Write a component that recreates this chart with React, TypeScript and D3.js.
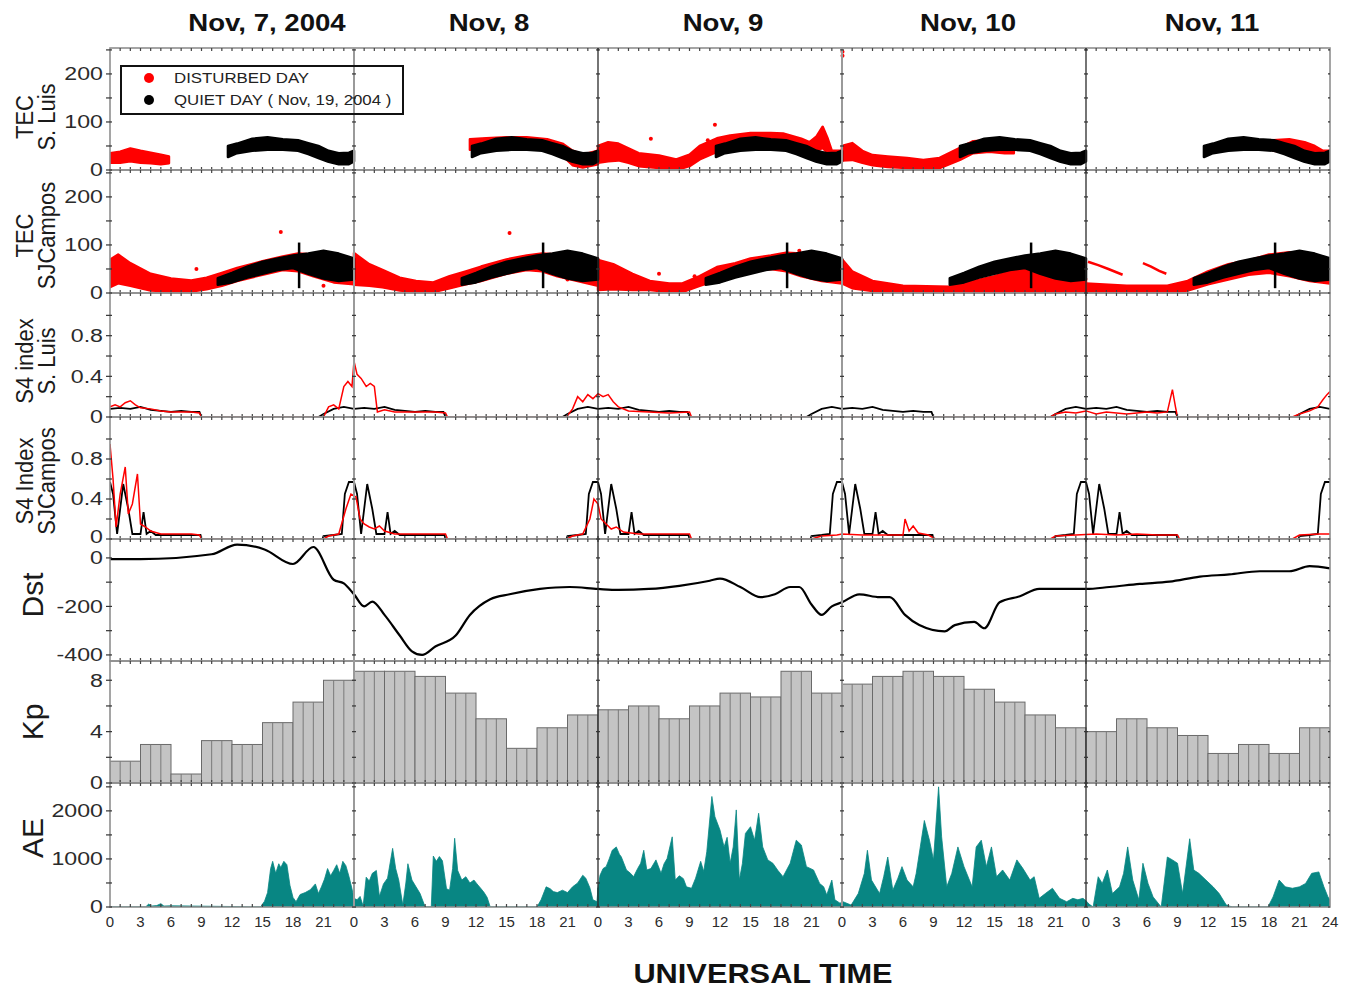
import React from 'react'
import * as d3 from 'd3'

type P2 = [number, number]
type P3 = [number, number, number]

const dayLabels = ['Nov, 7, 2004', 'Nov, 8', 'Nov, 9', 'Nov, 10', 'Nov, 11']
const dayLabelShift = [35, 13, 3, 4, 4]
const hourTicks = [0, 3, 6, 9, 12, 15, 18, 21]
const legendItems = ['DISTURBED DAY', 'QUIET DAY ( Nov, 19, 2004 )']

// TEC S. Luis, disturbed days: [hour since Nov 7 00UT, low, high]
const tecSLNov7 : P3[] = [[0, 15, 35], [1, 15, 38], [2, 18, 45], [3, 15, 40], [4, 14, 36], [5, 12, 32], [5.8, 14, 28]]
const tecSLNov8: P3[] = [[35.4, 42, 64], [37, 45, 66], [39, 47, 68], [41, 46, 68], [43, 42, 64], [44.5, 30, 55], [45.5, 10, 40], [46.5, 5, 32], [48, 12, 40]]
const tecSLNov9: P3[] = [[48, 15, 50], [49, 18, 58], [50, 20, 55], [51, 15, 45], [52, 8, 35], [54, 4, 30], [55.7, 0, 22], [57, 8, 32], [58, 22, 50], [59.7, 38, 66], [61, 45, 72], [63, 52, 77], [65, 52, 77], [66.2, 50, 76], [68, 40, 65], [68.8, 31, 58], [69.5, 40, 70], [70.1, 46, 90], [70.6, 35, 65], [71, 17, 40], [72, 17, 40]]
const tecSLNov10: P3[] = [[72, 20, 50], [73, 21, 56], [74, 15, 40], [75, 10, 31], [76.5, 6, 28], [78.4, 4, 25], [80, 0, 21], [81.6, 4, 25], [83.6, 21, 46], [84.9, 35, 60], [86.5, 38, 62], [88, 35, 58], [88.9, 35, 55]]
const tecSLNov11: P3[] = [[114.4, 40, 62], [116, 38, 64], [117.5, 30, 58], [118.5, 20, 50], [119.3, 17, 40], [120, 17, 40]]
const tecSLDots: P2[] = [[59.5, 94], [58.8, 62], [53.2, 65], [72.05, 238], [72.05, 246]]
// quiet day (Nov 19) S. Luis: [hour of day, low, high]
const tecSLQuiet: P3[] = [[11.6, 27, 50], [12.5, 35, 55], [14, 40, 65], [15.5, 42, 68], [17, 42, 64], [18.5, 40, 62], [19.5, 33, 56], [20.5, 25, 50], [21.5, 17, 40], [22.5, 12, 35], [23.5, 12, 36], [24, 18, 40]]

// TEC SJCampos
const tecSJNov7: P3[] = [[0, 12, 69], [0.8, 20, 80], [2, 15, 62], [4, 5, 40], [6, 3, 30], [8, 3, 26], [9.5, 8, 32], [11, 15, 42], [12.5, 25, 52], [15, 38, 66], [17, 48, 76], [18.5, 45, 82], [20, 35, 80], [22, 22, 72], [24, 18, 70]]
const tecSJNov8: P3[] = [[24, 17, 83], [25.5, 15, 60], [26.8, 12, 48], [28.5, 5, 32], [30.1, 2, 25], [31.8, 2, 22], [33.4, 10, 35], [35, 18, 45], [36.5, 25, 55], [39, 40, 70], [41, 48, 78], [42.5, 45, 82], [44, 35, 80], [46, 25, 75], [48, 15, 72]]
const tecSJNov9: P3[] = [[48, 6, 69], [49.5, 8, 60], [51.4, 6, 40], [53.1, 6, 25], [55, 2, 20], [56.3, 2, 20], [58, 15, 35], [59.7, 27, 54], [61.5, 35, 62], [63, 45, 72], [65, 50, 78], [66.5, 45, 84], [68, 35, 82], [70, 25, 75], [72, 20, 70]]
const tecSJNov10: P3[] = [[72, 20, 70], [73, 10, 45], [75, 4, 25], [78, 2, 15], [82.6, 0, 13], [85, 0, 25], [87, 0, 35], [89, 0, 48], [91, 0, 58], [93, 0, 55], [95, 0, 42], [96, 3, 30]]
const tecSJNov11: P3[] = [[96, 2, 20], [100, 0, 15], [104, 0, 15], [106, 5, 25], [108, 18, 45], [110, 28, 60], [112, 38, 68], [114, 42, 80], [116, 35, 85], [118, 25, 80], [120, 20, 65]]
const tecSJStreakA: P2[] = [[96.2, 65], [97.2, 58], [98.2, 50], [99.6, 38]]
const tecSJStreakB: P2[] = [[101.6, 62], [102.4, 55], [103.2, 46], [103.9, 40]]
const tecSJDots: P2[] = [[16.8, 127], [8.5, 50], [21, 15], [39.3, 125], [45, 28], [54, 40], [57.5, 35], [58.5, 30], [67, 78], [67.8, 88]]
const tecSJQuiet: P3[] = [[10.6, 17, 31], [12, 22, 42], [13.5, 32, 55], [15, 40, 65], [16.5, 48, 72], [18, 52, 78], [19.5, 40, 82], [21, 30, 88], [22.5, 25, 82], [24, 28, 72]]
const tecSJQuietSpike: P3 = [18.6, 10, 105]

// S4 S. Luis, disturbed (hour since Nov 7 00UT, value)
const s4SLDist: P2[] = [[0, 0.1], [0.5, 0.12], [1, 0.1], [1.5, 0.14], [2, 0.16], [2.5, 0.12], [3, 0.09], [4, 0.08], [5, 0.06], [6, 0.05], [7, 0.05], [8, 0.05], [8.8, 0.04], [9, 0], [21, 0], [21.5, 0.1], [22, 0.12], [22.5, 0.08], [23, 0.3], [23.4, 0.35], [23.8, 0.3], [24, 0.55], [24.3, 0.42], [24.7, 0.38], [25.2, 0.3], [25.6, 0.33], [26, 0.3], [26.3, 0.05], [27, 0.07], [28, 0.05], [30, 0.05], [32, 0.05], [33, 0.04], [33.2, 0], [44.9, 0], [45.5, 0.08], [46, 0.2], [46.5, 0.15], [47, 0.22], [47.5, 0.18], [48, 0.23], [48.5, 0.2], [49, 0.22], [49.5, 0.15], [50, 0.1], [51, 0.06], [53, 0.05], [55, 0.04], [57, 0.05], [57.2, 0], [92.5, 0], [93, 0.03], [94, 0.05], [95, 0.04], [96, 0.06], [97, 0.03], [98, 0.05], [99, 0.04], [100, 0.03], [101, 0.04], [102, 0.05], [103, 0.04], [104, 0.05], [104.5, 0.27], [104.8, 0.1], [105, 0], [116.3, 0], [117, 0.03], [118, 0.06], [118.8, 0.1], [119.3, 0.17], [119.7, 0.22], [120, 0.25]]
// S4 S. Luis quiet day (hour of day, value)
const s4SLQuiet: P2[] = [[0, 0.08], [1, 0.09], [2, 0.08], [3, 0.1], [4, 0.07], [5, 0.06], [6, 0.05], [7, 0.06], [8, 0.05], [8.8, 0.05], [9, 0], [20.5, 0], [21, 0.03], [22, 0.08], [23, 0.1], [24, 0.08]]

// S4 SJCampos
const s4SJDist: P2[] = [[0, 0.95], [0.3, 0.6], [0.6, 0.12], [1, 0.45], [1.5, 0.72], [1.8, 0.25], [2.2, 0.35], [2.7, 0.65], [3, 0.15], [3.5, 0.12], [4, 0.08], [5, 0.05], [6, 0.05], [7, 0.05], [8, 0.05], [8.8, 0.04], [9, 0], [21, 0], [21.5, 0.03], [22.5, 0.05], [23.2, 0.3], [23.7, 0.45], [24.2, 0.42], [24.6, 0.2], [25, 0.15], [25.5, 0.12], [26, 0.1], [26.5, 0.13], [27, 0.08], [28, 0.05], [30, 0.05], [33, 0.05], [33.2, 0], [44.9, 0], [45.5, 0.03], [46.5, 0.05], [47.2, 0.2], [47.6, 0.4], [48, 0.35], [48.3, 0.2], [48.8, 0.15], [49.3, 0.1], [49.8, 0.12], [50.5, 0.07], [52, 0.05], [55, 0.05], [57, 0.05], [57.2, 0], [69, 0], [70, 0.03], [71.5, 0.04], [72, 0.05], [74, 0.04], [76, 0.04], [78, 0.04], [78.2, 0.2], [78.6, 0.08], [79, 0.13], [79.5, 0.06], [80.5, 0.04], [81.2, 0], [92.5, 0], [93, 0.03], [95, 0.04], [97, 0.05], [99, 0.04], [101, 0.05], [103, 0.04], [105, 0.04], [105.2, 0], [116.3, 0], [117, 0.04], [119, 0.05], [120, 0.05]]
const s4SJQuiet: P2[] = [[0, 0.57], [0.3, 0.45], [0.7, 0.05], [1.3, 0.55], [1.8, 0.3], [2.2, 0.05], [3, 0.05], [3.3, 0.27], [3.6, 0.05], [4, 0.08], [4.5, 0.04], [6, 0.04], [8, 0.04], [8.9, 0.04], [9, 0], [20.9, 0], [21, 0.03], [22, 0.04], [22.8, 0.05], [23.1, 0.45], [23.5, 0.57], [24, 0.57]]

// Dst (nT)
const dst: P2[] = [[0, -5], [3, -5], [10, 15], [12.5, 55], [15.2, 35], [18, -25], [20, 45], [22, -90], [23, -105], [24, -150], [25, -200], [25.8, -180], [27, -235], [28.5, -320], [29.7, -385], [30.7, -400], [32, -365], [34, -320], [35.4, -235], [37.4, -170], [39.3, -150], [42.3, -128], [45.2, -120], [48, -128], [50, -132], [53, -128], [56, -115], [59, -94], [60, -85], [62, -120], [64, -162], [65.4, -150], [66.9, -120], [67.8, -120], [69, -192], [70, -235], [71, -200], [72, -183], [73.7, -150], [75.7, -162], [76.7, -162], [78.2, -235], [79.6, -277], [82.1, -303], [83.1, -277], [85, -264], [86, -290], [87.5, -183], [89.5, -158], [91.4, -128], [93.4, -128], [96, -128], [98.3, -120], [101.3, -107], [104.2, -98], [107.2, -77], [110.1, -68], [113.1, -55], [116, -55], [118, -34], [120, -43]]

// Kp, 3-hourly
const kp = [1.7, 3.0, 0.7, 3.3, 3.0, 4.7, 6.3, 8.0,
  8.7, 8.7, 8.3, 7.0, 5.0, 2.7, 4.3, 5.3,
  5.7, 6.0, 5.0, 6.0, 7.0, 6.7, 8.7, 7.0,
  7.7, 8.3, 8.7, 8.3, 7.3, 6.3, 5.3, 4.3,
  4.0, 5.0, 4.3, 3.7, 2.3, 3.0, 2.3, 4.3]

// AE (nT)
const aeNov7: P2[] = [[0, 0], [3.5, 0], [3.8, 60], [4.1, 20], [4.6, 30], [5, 70], [5.3, 20], [6, 25], [8, 20], [10, 15], [12, 10], [13.6, 0], [14.8, 0], [15.2, 120], [15.5, 300], [15.8, 800], [16, 950], [16.3, 700], [16.6, 900], [16.8, 820], [17.1, 950], [17.4, 880], [17.7, 450], [18, 200], [18.3, 110], [18.7, 260], [19.2, 300], [19.7, 360], [20.2, 480], [20.5, 280], [20.8, 420], [21.1, 580], [21.4, 800], [21.7, 650], [22, 760], [22.3, 880], [22.6, 700], [22.9, 950], [23.2, 860], [23.5, 640], [23.8, 380], [24, 180]]
const aeNov8: P2[] = [[24, 180], [24.3, 150], [24.6, 220], [24.9, 20], [25.2, 620], [25.5, 540], [25.8, 700], [26.2, 760], [26.5, 220], [26.9, 480], [27.3, 600], [27.8, 1220], [28.1, 800], [28.4, 560], [28.8, 40], [29.1, 500], [29.3, 900], [29.7, 560], [30.1, 420], [30.5, 280], [31, 0], [31.6, 0], [31.8, 1060], [32.1, 950], [32.4, 1050], [32.7, 960], [33.1, 380], [33.4, 350], [33.7, 800], [33.9, 1430], [34.2, 760], [34.6, 560], [35, 630], [35.4, 500], [35.8, 560], [36.1, 480], [36.5, 380], [36.8, 300], [37.1, 200], [37.4, 0], [42, 0], [42.4, 150], [42.9, 420], [43.3, 380], [43.6, 320], [44, 300], [44.5, 350], [45, 300], [45.5, 420], [46, 500], [46.5, 660], [46.8, 600], [47.2, 400], [47.5, 150], [47.9, 110], [48, 400]]
const aeNov9: P2[] = [[48, 400], [48.2, 660], [48.5, 800], [48.8, 840], [49.1, 1000], [49.4, 1180], [49.8, 1250], [50.1, 1100], [50.3, 1040], [50.8, 770], [51.2, 700], [51.5, 630], [51.9, 800], [52.2, 910], [52.5, 1180], [52.8, 770], [53.2, 800], [53.7, 980], [54.2, 700], [54.5, 900], [54.8, 1010], [55.3, 1460], [55.6, 560], [56, 650], [56.4, 590], [56.7, 420], [57.2, 390], [57.6, 600], [58.1, 950], [58.4, 740], [58.7, 1150], [59.2, 2300], [59.5, 1880], [60, 1600], [60.4, 1250], [60.7, 1450], [61, 910], [61.3, 1250], [61.6, 2020], [61.9, 560], [62.2, 900], [62.5, 1530], [63, 1670], [63.4, 1390], [63.8, 1950], [64.2, 1250], [64.7, 980], [65.2, 910], [65.7, 760], [66.2, 630], [66.9, 910], [67.5, 1390], [68, 1290], [68.5, 840], [69.2, 770], [69.8, 490], [70.2, 420], [70.5, 250], [71, 560], [71.3, 150], [71.8, 80], [72, 100]]
const aeNov10: P2[] = [[72, 100], [72.1, 110], [72.9, 40], [73.6, 280], [74.2, 700], [74.5, 1180], [74.9, 560], [75.7, 280], [76.1, 630], [76.5, 1040], [77, 350], [77.5, 600], [77.9, 840], [78.4, 560], [79, 420], [79.3, 700], [79.7, 1250], [80.1, 1800], [80.6, 1390], [81, 980], [81.5, 2500], [81.8, 1460], [82.3, 420], [82.8, 700], [83.4, 1250], [84, 840], [84.8, 420], [85.2, 1250], [85.7, 1390], [86.2, 840], [86.7, 1250], [87.2, 630], [87.8, 770], [88.5, 560], [89.2, 980], [89.8, 800], [90.5, 560], [90.9, 630], [91.4, 180], [92, 280], [92.7, 390], [93.4, 180], [94.1, 110], [94.7, 180], [95.2, 150], [95.7, 180], [96, 130]]
const aeNov11: P2[] = [[96, 130], [96.3, 60], [96.7, 0], [97.2, 630], [97.6, 490], [98.1, 770], [98.6, 280], [99.3, 420], [99.7, 700], [100.1, 1250], [100.6, 560], [101.2, 150], [101.6, 910], [102.1, 490], [102.6, 210], [103.4, 0], [104, 1040], [104.5, 980], [105, 910], [105.5, 280], [106.2, 1420], [106.6, 770], [107.1, 700], [107.8, 560], [108.5, 420], [109.1, 280], [109.8, 40], [110.4, 0], [113.9, 0], [114.4, 210], [115, 560], [115.6, 420], [116.3, 390], [117, 420], [117.6, 490], [118.2, 700], [118.9, 730], [119.4, 420], [119.8, 210], [120, 150]]

const FONT = 'Liberation Sans, Arial, Helvetica, sans-serif'
const RED = '#ff0000'
const TEAL = '#088683'

const App = () => {
  const ref = React.useRef<SVGSVGElement>(null)

  React.useEffect(() => {
    const svg = d3.select(ref.current)
    svg.selectAll('*').remove()

    const x = d3.scaleLinear().domain([0, 120]).range([110, 1330])

    const panels = [
      { id: 'tecSL', top: 48, bottom: 170, domain: [0, 254], ticks: [0, 100, 200], minor: [50, 150, 250], title: ['TEC', 'S. Luis'], dy: 8 },
      { id: 'tecSJ', top: 170, bottom: 293, domain: [0, 256], ticks: [0, 100, 200], minor: [50, 150, 250], title: ['TEC', 'SJCampos'], dy: 4 },
      { id: 's4SL', top: 293, bottom: 417, domain: [0, 1.22], ticks: [0, 0.4, 0.8], minor: [0.2, 0.6, 1.0], title: ['S4 index', 'S. Luis'], dy: 6 },
      { id: 's4SJ', top: 417, bottom: 539, domain: [0, 1.22], ticks: [0, 0.4, 0.8], minor: [0.2, 0.6, 1.0], title: ['S4 Index', 'SJCampos'], dy: 3 },
      { id: 'dst', top: 539, bottom: 661, domain: [-425, 78], ticks: [0, -200, -400], minor: [-100, -300], title: ['Dst'], dy: -5 },
      { id: 'kp', top: 661, bottom: 783, domain: [0, 9.5], ticks: [0, 4, 8], minor: [2, 6], title: ['Kp'], dy: 0 },
      { id: 'ae', top: 783, bottom: 907, domain: [0, 2580], ticks: [0, 1000, 2000], minor: [500, 1500, 2500], title: ['AE'], dy: -7 },
    ]
    const ys: Record<string, d3.ScaleLinear<number, number>> = {}
    panels.forEach((p) => {
      ys[p.id] = d3.scaleLinear().domain(p.domain).range([p.bottom, p.top])
    })

    svg.append('rect').attr('width', 1353).attr('height', 989).attr('fill', '#fff')

    const defs = svg.append('defs')
    panels.forEach((p) => {
      defs.append('clipPath').attr('id', 'clip-' + p.id)
        .append('rect').attr('x', 110).attr('y', p.top).attr('width', 1220).attr('height', p.bottom - p.top)
    })
    const layer = (id: string) => svg.append('g').attr('clip-path', 'url(#clip-' + id + ')')

    const band = (y: d3.ScaleLinear<number, number>) =>
      d3.area<P3>().x((d) => x(d[0])).y0((d) => y(d[1])).y1((d) => y(d[2]))
    const line = (y: d3.ScaleLinear<number, number>) =>
      d3.line<P2>().x((d) => x(d[0])).y((d) => y(d[1]))
    const days = [0, 1, 2, 3, 4]

    // ---- TEC S. Luis
    {
      const y = ys.tecSL
      const g = layer('tecSL')
      ;[tecSLNov7, tecSLNov8, tecSLNov9, tecSLNov10, tecSLNov11].forEach((b) => {
        g.append('path').attr('d', band(y)(b)).attr('fill', RED).attr('stroke', RED).attr('stroke-width', 2.5).attr('stroke-linejoin', 'round')
      })
      g.selectAll('.dot').data(tecSLDots).enter().append('circle')
        .attr('cx', (d) => x(d[0])).attr('cy', (d) => y(d[1])).attr('r', 2).attr('fill', RED)
      days.forEach((d) => {
        const b = tecSLQuiet.map(([h, lo, hi]) => [h + d * 24, lo, hi] as P3)
        g.append('path').attr('d', band(y)(b)).attr('fill', '#000').attr('stroke', '#000').attr('stroke-width', 2.5).attr('stroke-linejoin', 'round')
      })
    }

    // ---- TEC SJCampos
    {
      const y = ys.tecSJ
      const g = layer('tecSJ')
      ;[tecSJNov7, tecSJNov8, tecSJNov9, tecSJNov10, tecSJNov11].forEach((b) => {
        g.append('path').attr('d', band(y)(b)).attr('fill', RED).attr('stroke', RED).attr('stroke-width', 2.5).attr('stroke-linejoin', 'round')
      })
      ;[tecSJStreakA, tecSJStreakB].forEach((s) => {
        g.append('path').attr('d', line(y)(s)).attr('fill', 'none').attr('stroke', RED).attr('stroke-width', 2.5)
      })
      g.selectAll('.dot').data(tecSJDots).enter().append('circle')
        .attr('cx', (d) => x(d[0])).attr('cy', (d) => y(d[1])).attr('r', 2).attr('fill', RED)
      days.forEach((d) => {
        const b = tecSJQuiet.map(([h, lo, hi]) => [h + d * 24, lo, hi] as P3)
        g.append('path').attr('d', band(y)(b)).attr('fill', '#000').attr('stroke', '#000').attr('stroke-width', 2.5).attr('stroke-linejoin', 'round')
        const [h, lo, hi] = tecSJQuietSpike
        g.append('line').attr('x1', x(h + d * 24)).attr('x2', x(h + d * 24)).attr('y1', y(lo)).attr('y2', y(hi))
          .attr('stroke', '#000').attr('stroke-width', 2.5)
      })
    }

    // ---- S4 panels
    const s4 = (id: string, dist: P2[], quiet: P2[]) => {
      const y = ys[id]
      const g = layer(id)
      days.forEach((d) => {
        const q = quiet.map(([h, v]) => [h + d * 24, v] as P2)
        g.append('path').attr('d', line(y)(q)).attr('fill', 'none').attr('stroke', '#000').attr('stroke-width', 1.8)
      })
      g.append('path').attr('d', line(y)(dist)).attr('fill', 'none').attr('stroke', RED).attr('stroke-width', 1.5)
    }
    s4('s4SL', s4SLDist, s4SLQuiet)
    s4('s4SJ', s4SJDist, s4SJQuiet)

    // ---- Dst
    layer('dst').append('path').attr('d', line(ys.dst).curve(d3.curveMonotoneX)(dst))
      .attr('fill', 'none').attr('stroke', '#000').attr('stroke-width', 2.2)

    // ---- Kp
    {
      const y = ys.kp
      const g = layer('kp')
      g.selectAll('.kp').data(kp).enter().append('rect')
        .attr('x', (d, i) => x(i * 3)).attr('width', x(3) - x(0))
        .attr('y', (d) => y(d)).attr('height', (d) => y(0) - y(d))
        .attr('fill', '#c4c4c4').attr('stroke', '#6a6a6a').attr('stroke-width', 1)
      kp.forEach((v, i) => {
        ;[1, 2].forEach((k) => {
          g.append('line').attr('x1', x(i * 3 + k)).attr('x2', x(i * 3 + k)).attr('y1', y(v)).attr('y2', y(0))
            .attr('stroke', '#7a7a7a').attr('stroke-width', 1)
        })
      })
    }

    // ---- AE
    {
      const y = ys.ae
      const g = layer('ae')
      const area = d3.area<P2>().x((d) => x(d[0])).y0(y(0)).y1((d) => y(d[1]))
      ;[aeNov7, aeNov8, aeNov9, aeNov10, aeNov11].forEach((s) => {
        g.append('path').attr('d', area(s)).attr('fill', TEAL).attr('stroke', TEAL).attr('stroke-width', 0.8)
      })
    }

    // ---- frames, separators, ticks
    const frame = svg.append('g')
    panels.forEach((p) => {
      frame.append('rect').attr('x', 110).attr('y', p.top).attr('width', 1220).attr('height', p.bottom - p.top)
        .attr('fill', 'none').attr('stroke', '#8f8f8f').attr('stroke-width', 1.6)
      for (let h = 1; h < 120; h++) {
        frame.append('line').attr('x1', x(h)).attr('x2', x(h)).attr('y1', p.top).attr('y2', p.top + 3)
          .attr('stroke', '#444').attr('stroke-width', 1.2)
        frame.append('line').attr('x1', x(h)).attr('x2', x(h)).attr('y1', p.bottom - 3).attr('y2', p.bottom)
          .attr('stroke', '#444').attr('stroke-width', 1.2)
      }
    })
    ;[1, 2, 3, 4].forEach((d) => {
      const dark = d % 2 === 0
      frame.append('line').attr('x1', x(d * 24)).attr('x2', x(d * 24)).attr('y1', 48).attr('y2', 907)
        .attr('stroke', dark ? '#2a2a2a' : '#9a9a9a').attr('stroke-width', dark ? 1.3 : 2)
    })
    panels.forEach((p) => {
      const y = ys[p.id]
      ;[0, 1, 2, 3, 4, 5].forEach((d) => {
        const xx = x(d * 24)
        p.minor.concat(p.ticks).forEach((t) => {
          frame.append('line').attr('x1', xx - (d === 0 ? 4 : 2)).attr('x2', xx + (d === 5 ? 0 : 2))
            .attr('y1', y(t)).attr('y2', y(t)).attr('stroke', '#333').attr('stroke-width', 1.2)
        })
      })
      // y tick labels (source image is stretched horizontally)
      p.ticks.forEach((t) => {
        const ty = t === 0 && p.id === 's4SJ' ? y(t) - 2 : y(t)
        svg.append('text').attr('transform', `translate(103,${ty}) scale(1.22,1)`).attr('dy', '0.34em')
          .attr('text-anchor', 'end').attr('font-family', FONT).attr('font-size', 19).attr('fill', '#2b2b2b')
          .text(String(t))
      })
      // panel titles
      const cy = (p.top + p.bottom) / 2 + p.dy
      if (p.title.length === 2) {
        p.title.forEach((t, i) => {
          svg.append('text').attr('transform', `translate(${i === 0 ? 33 : 55},${cy}) scale(1.12,1) rotate(-90)`)
            .attr('text-anchor', 'middle').attr('font-family', FONT).attr('font-size', 22).attr('fill', '#1a1a1a')
            .text(t)
        })
      } else {
        svg.append('text').attr('transform', `translate(43,${cy}) rotate(-90)`)
          .attr('text-anchor', 'middle').attr('font-family', FONT).attr('font-size', 30).attr('fill', '#1a1a1a')
          .text(p.title[0])
      }
    })

    // x tick labels
    days.forEach((d) => {
      const hs = d === 4 ? hourTicks.concat([24]) : hourTicks
      hs.forEach((h) => {
        svg.append('text').attr('x', x(d * 24 + h)).attr('y', 927)
          .attr('text-anchor', 'middle').attr('font-family', FONT).attr('font-size', 15).attr('fill', '#2b2b2b')
          .text(String(h))
      })
    })

    // day titles
    dayLabels.forEach((t, d) => {
      svg.append('text').attr('transform', `translate(${x(d * 24 + 12) + dayLabelShift[d]},31) scale(1.2,1)`)
        .attr('text-anchor', 'middle').attr('font-family', FONT).attr('font-weight', 'bold').attr('font-size', 23)
        .attr('fill', '#111').text(t)
    })

    svg.append('text').attr('transform', 'translate(763,983) scale(1.14,1)').attr('text-anchor', 'middle')
      .attr('font-family', FONT).attr('font-weight', 'bold').attr('font-size', 27).attr('fill', '#111')
      .text('UNIVERSAL TIME')

    // legend
    const lg = svg.append('g')
    lg.append('rect').attr('x', 121).attr('y', 66).attr('width', 282).attr('height', 48)
      .attr('fill', 'none').attr('stroke', '#111').attr('stroke-width', 2)
    legendItems.forEach((t, i) => {
      lg.append('circle').attr('cx', 149).attr('cy', 78 + i * 22).attr('r', 5).attr('fill', i === 0 ? RED : '#000')
      lg.append('text').attr('transform', `translate(174,${78 + i * 22}) scale(1.16,1)`).attr('dy', '0.36em')
        .attr('font-family', FONT).attr('font-size', 14.5).attr('fill', '#222').text(t)
    })
  }, [])

  return (
    <div style={{ position: 'absolute', left: 0, top: 0 }}>
      <svg ref={ref} width={1353} height={989} style={{ display: 'block' }} />
    </div>
  )
}

export default App
